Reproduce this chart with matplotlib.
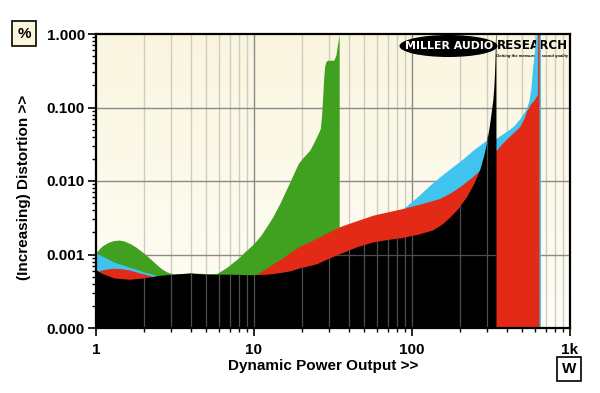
import numpy as np
import matplotlib
matplotlib.use("Agg")
import matplotlib.pyplot as plt
from matplotlib.patches import Ellipse
from matplotlib.ticker import FixedLocator, FixedFormatter, NullFormatter

plt.rcParams["font.family"] = ["Liberation Sans", "DejaVu Sans"]
plt.rcParams["font.weight"] = "bold"

# power (W) / distortion (%) readings for each trace
green_x = [1.0, 1.05, 1.1, 1.2, 1.3, 1.4, 1.5, 1.65, 1.8, 2.0, 2.2, 2.4, 2.6, 2.8, 3.1, 4.0, 5.0,
           5.8, 6.2, 6.8, 7.4, 8.0, 8.7, 9.4, 10, 11, 12, 13.2, 14.6, 15.8, 16.9, 18, 19.1, 20.5,
           22.6, 24, 25.5, 26.3, 26.8, 27.2, 27.6, 28.0, 28.5, 29.2, 32, 33, 33.6, 34.2, 34.6]
green_y = [0.00106, 0.0012, 0.00132, 0.00147, 0.00155, 0.00157, 0.00153, 0.0014, 0.00125, 0.00105,
           0.00088, 0.00074, 0.00064, 0.00058, 0.00054, 0.00056, 0.00055, 0.00055, 0.0006,
           0.00068, 0.00079, 0.0009, 0.00108, 0.00125, 0.00142, 0.0018, 0.00239, 0.0033, 0.005,
           0.0072, 0.0098, 0.0132, 0.0174, 0.021, 0.0264, 0.034, 0.0445, 0.052, 0.08, 0.14, 0.25,
           0.36, 0.42, 0.44, 0.44, 0.52, 0.67, 0.85, 1.0]

cyan_x = [1.0, 1.15, 1.3, 1.45, 1.6, 1.8, 2.0, 2.2, 2.4, 3.0, 10, 30, 60, 88, 110, 130, 150, 180,
          210, 244, 270, 296, 340, 400, 440, 480, 510, 532, 550, 565, 580, 595, 605, 612, 650]
cyan_y = [0.00105, 0.0009, 0.00079, 0.00073, 0.00068, 0.00063, 0.00058, 0.00055, 0.00052, 0.0005,
          0.0005, 0.0009, 0.0028, 0.0042, 0.0063, 0.0088, 0.0114, 0.0155, 0.020, 0.0264, 0.031,
          0.036, 0.038, 0.048, 0.056, 0.07, 0.085, 0.10, 0.125, 0.18, 0.35, 0.55, 0.8, 1.0, 1.0]

red_x = [1.0, 1.05, 1.1, 1.2, 1.3, 1.45, 1.6, 1.75, 1.9, 2.1, 2.3, 3.0, 9.8, 11, 12, 13.2, 14.6,
         17, 19.5, 22.6, 28, 35, 45, 57, 70, 88, 110, 130, 150, 175, 201, 230, 256, 300, 340, 370,
         400, 440, 480, 510, 532, 560, 590, 622, 624, 637]
red_y = [0.00058, 0.0006, 0.00062, 0.00064, 0.00065, 0.00064, 0.00062, 0.00059, 0.00056, 0.00053,
         0.0005, 0.0005, 0.0005, 0.00058, 0.00065, 0.00075, 0.00085, 0.00108, 0.0013, 0.0015,
         0.0019, 0.0024, 0.0029, 0.00344, 0.0038, 0.00424, 0.0048, 0.0053, 0.0058, 0.0069,
         0.0084, 0.0105, 0.0128, 0.018, 0.026, 0.032, 0.038, 0.046, 0.055, 0.07, 0.09, 0.11,
         0.125, 0.15, 1.0, 1.0]

black_x = [1.0, 1.05, 1.1, 1.2, 1.3, 1.45, 1.63, 1.8, 2.0, 2.5, 3.07, 3.9, 5, 7, 9.8, 12, 14, 17,
           19.5, 22, 25, 30, 35, 45, 57, 70, 88, 110, 135, 155, 174, 195, 221, 245, 268, 284, 296,
           306, 313, 320, 325, 330, 333, 336, 338, 340]
black_y = [0.00062, 0.00058, 0.00055, 0.00051, 0.00048, 0.00047, 0.00046, 0.00047, 0.00048,
           0.00052, 0.00054, 0.00056, 0.00054, 0.00054, 0.00053, 0.00054, 0.00056, 0.0006,
           0.00066, 0.0007, 0.00075, 0.0009, 0.00103, 0.00128, 0.00149, 0.0016, 0.00171, 0.0019,
           0.00216, 0.0026, 0.00325, 0.0042, 0.0061, 0.0091, 0.0142, 0.022, 0.033, 0.05, 0.07,
           0.1, 0.13, 0.2, 0.3, 0.55, 1.0, 1.0]

y_ticks = [1e-4, 1e-3, 1e-2, 1e-1, 1]
y_labels = ["0.000", "0.001", "0.010", "0.100", "1.000"]
x_ticks = [1, 10, 100, 1000]
x_labels = ["1", "10", "100", "1k"]

W, H = 600, 393
fig = plt.figure(figsize=(6, 3.93), dpi=100)
fig.patch.set_facecolor("white")
rect = [96 / W, 1 - 328 / H, (570 - 96) / W, (328 - 34) / H]

# cream gradient behind the plot
bg = fig.add_axes(rect, zorder=0)
grad = np.linspace(0, 1, 256)[:, None]
top = np.array([0.980, 0.962, 0.875])
bot = np.array([0.998, 0.995, 0.965])
img = top[None, None, :] * (1 - grad[..., None]) + bot[None, None, :] * grad[..., None]
bg.imshow(np.repeat(img, 2, axis=1), aspect="auto", extent=[0, 1, 0, 1])
bg.axis("off")

ax = fig.add_axes(rect, zorder=1)
ax.set_facecolor("none")
ax.set_xscale("log")
ax.set_yscale("log")
ax.set_xlim(1, 1000)
ax.set_ylim(1e-4, 1)

minor_x = [m * d for d in [1, 10, 100] for m in range(2, 10)]
for xv in minor_x:
    ax.axvline(xv, color="#cfcdc2", lw=1.0, zorder=0.5)
for xv in [10, 100]:
    ax.axvline(xv, color="#8a8a8a", lw=1.0, zorder=0.6)
for yv in [1e-3, 1e-2, 1e-1]:
    ax.axhline(yv, color="#8a8a8a", lw=1.0, zorder=0.6)

ax.fill_between(green_x, 1e-4, green_y, color="#3fa11f", lw=0, zorder=2)
ax.fill_between(cyan_x, 1e-4, cyan_y, color="#3ec4ee", lw=0, zorder=3)
ax.fill_between(red_x, 1e-4, red_y, color="#e32a16", lw=0, zorder=4)
blk = ax.fill_between(black_x, 1e-4, black_y, color="black", lw=0, zorder=5)

# grid shows faintly through the black area
clip = blk.get_paths()[0]
for xv in minor_x + [10, 100]:
    ln = ax.axvline(xv, color="#4d4d4d", lw=0.9, zorder=6)
    ln.set_clip_path(clip, blk.get_transform())
ln = ax.axhline(1e-3, color="#4d4d4d", lw=0.9, zorder=6)
ln.set_clip_path(clip, blk.get_transform())

ax.yaxis.set_major_locator(FixedLocator(y_ticks))
ax.yaxis.set_major_formatter(FixedFormatter(y_labels))
ax.yaxis.set_minor_formatter(NullFormatter())
ax.xaxis.set_major_locator(FixedLocator(x_ticks))
ax.xaxis.set_major_formatter(FixedFormatter(x_labels))
ax.xaxis.set_minor_formatter(NullFormatter())
ax.tick_params(axis="both", which="major", direction="out", length=6, width=1.2,
               labelsize=11, pad=2)
ax.tick_params(axis="both", which="minor", direction="out", length=3, width=1.0)
ax.tick_params(axis="x", which="major", pad=5)
for lab in ax.get_xticklabels() + ax.get_yticklabels():
    lab.set_fontweight("bold")
for sp in ax.spines.values():
    sp.set_linewidth(1.6)
    sp.set_zorder(10)

fig.text(24 / W, 1 - 187 / H, "(Increasing) Distortion >>", rotation=90, ha="center",
         va="center", fontsize=11, fontweight="bold")
fig.text(323 / W, 1 - 366 / H, "Dynamic Power Output >>", ha="center", va="center",
         fontsize=11, fontweight="bold")
fig.text(24 / W, 1 - 33.5 / H, "%", ha="center", va="center", fontsize=11, fontweight="bold",
         bbox=dict(boxstyle="square,pad=0.35", fc="#fbf5da", ec="black", lw=1.2))
fig.text(569 / W, 1 - 369 / H, "W", ha="center", va="center", fontsize=11, fontweight="bold",
         bbox=dict(boxstyle="square,pad=0.3", fc="white", ec="black", lw=1.2))

# logo, placed under the traces
ax.add_patch(Ellipse((448.5 / W, 1 - 46 / H), 98 / W, 22 / H, transform=fig.transFigure,
                     fc="black", ec="none", zorder=1.5, clip_on=False))
ax.text(449 / W, 1 - 46 / H, "MILLER AUDIO", transform=fig.transFigure, color="white",
        fontsize=7.9, fontweight="bold", family="DejaVu Sans", ha="center", va="center",
        zorder=1.6)
ax.text(497 / W, 1 - 45.5 / H, "RESEARCH", transform=fig.transFigure, color="black",
        fontsize=8.6, fontweight="bold", family="DejaVu Sans", ha="left", va="center",
        zorder=1.6)
ax.text(568 / W, 1 - 55.5 / H, "Getting the measure of sound quality", transform=fig.transFigure,
        color="black", fontsize=3.0, fontweight="bold", style="italic", ha="right",
        va="center", zorder=1.6)

fig.savefig("out.png", dpi=100)
